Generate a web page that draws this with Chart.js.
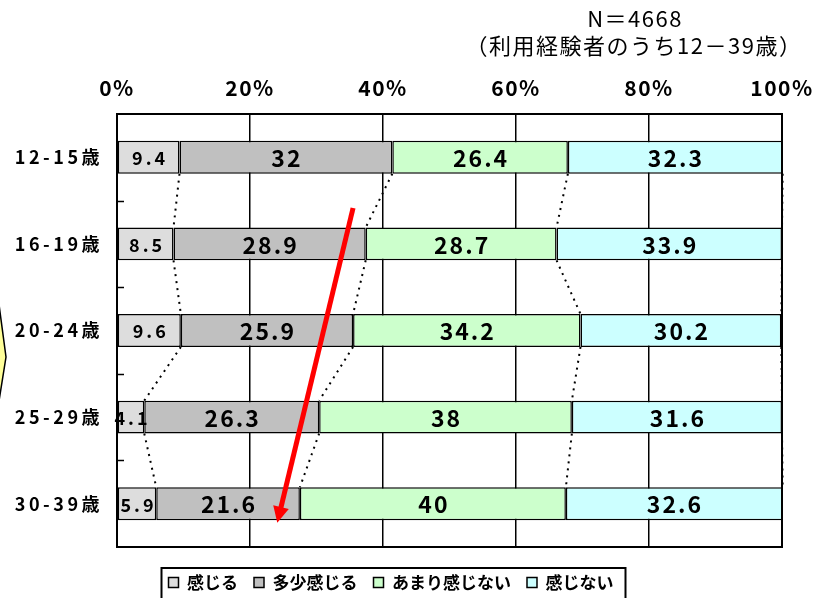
<!DOCTYPE html>
<html>
<head>
<meta charset="utf-8">
<script src="https://cdn.jsdelivr.net/npm/chart.js@4.4.1/dist/chart.umd.min.js"></script>
<style>
  html, body { margin: 0; padding: 0; background: #fff; }
  #wrap { position: relative; width: 814px; height: 598px; }
</style>
</head>
<body>
<div id="wrap"><canvas id="c" width="814" height="598"></canvas></div>
<script>
// ---- data ----
const categories = ['12-15歳', '16-19歳', '20-24歳', '25-29歳', '30-39歳'];
const seriesNames = ['感じる', '多少感じる', 'あまり感じない', '感じない'];
const kanjiru   = [9.4, 8.5, 9.6, 4.1, 5.9];
const tashou    = [32, 28.9, 25.9, 26.3, 21.6];
const amari     = [26.4, 28.7, 34.2, 38, 40];
const kanjinai  = [32.3, 33.9, 30.2, 31.6, 32.6];
const xTicks    = [0, 20, 40, 60, 80, 100];
const noteLines = ['N＝4668', '（利用経験者のうち12－39歳）'];
// red arrow annotation in data coordinates [x %, category index]
const arrowFrom = [35.5, 0.585];
const arrowTo   = [24.1, 4.22];

const seriesValues = [kanjiru, tashou, amari, kanjinai];
const seriesColors = ['#DDDDDD', '#C0C0C0', '#CCFFCC', '#CCFFFF'];
const FONT = '"Noto Sans CJK JP", "Noto Sans", sans-serif';

function wrapSpacing(scale, spacing) {
  if (scale._lsWrapped) return;
  const orig = scale.drawLabels;
  scale.drawLabels = function (ca) {
    const c = this.ctx;
    c.save();
    c.letterSpacing = spacing;
    orig.call(this, ca);
    c.restore();
  };
  scale._lsWrapped = true;
}

const decor = {
  id: 'decor',
  beforeDraw(chart) {
    wrapSpacing(chart.scales.x, '1.5px');
    wrapSpacing(chart.scales.y, '3.5px');
  },
  afterDatasetsDraw(chart) {
    const { ctx, chartArea: ca, scales: { x, y } } = chart;
    // series (connector) lines
    ctx.save();
    ctx.beginPath();
    ctx.rect(ca.left, ca.top, ca.right - ca.left + 2, ca.bottom - ca.top);
    ctx.clip();
    ctx.setLineDash([2, 5]);
    ctx.lineWidth = 2;
    ctx.strokeStyle = '#000';
    chart.data.datasets.forEach((ds, di) => {
      const meta = chart.getDatasetMeta(di);
      for (let i = 0; i < meta.data.length - 1; i++) {
        const a = meta.data[i], b = meta.data[i + 1];
        ctx.beginPath();
        ctx.moveTo(a.x, a.y + a.height / 2);
        ctx.lineTo(b.x, b.y - b.height / 2);
        ctx.stroke();
      }
    });
    ctx.restore();

    // plot frame
    ctx.save();
    ctx.strokeStyle = '#000';
    ctx.lineWidth = 2;
    ctx.strokeRect(ca.left, ca.top, ca.right - ca.left, ca.bottom - ca.top);
    // inward tick marks at category boundaries
    ctx.lineWidth = 1.5;
    for (let i = 0; i < categories.length - 1; i++) {
      const py = Math.round((y.getPixelForValue(i) + y.getPixelForValue(i + 1)) / 2) + 0.5;
      ctx.beginPath();
      ctx.moveTo(ca.left, py);
      ctx.lineTo(ca.left + 7, py);
      ctx.stroke();
    }
    ctx.restore();

    // data labels
    ctx.save();
    ctx.fillStyle = '#000';
    ctx.textBaseline = 'middle';
    ctx.textAlign = 'center';
    chart.data.datasets.forEach((ds, di) => {
      const meta = chart.getDatasetMeta(di);
      const small = di === 0;
      const sp = small ? 3 : 2;
      ctx.font = 'bold ' + (small ? 18 : 23) + 'px ' + FONT;
      ctx.letterSpacing = sp + 'px';
      meta.data.forEach((el, i) => {
        const x0 = Math.max(ca.left, Math.min(el.base, el.x));
        const x1 = Math.min(ca.right, Math.max(el.base, el.x));
        ctx.fillText(String(ds.data[i]), (x0 + x1) / 2 + sp / 2, el.y + 1);
      });
    });
    ctx.restore();

    // red arrow annotation
    const sx = x.getPixelForValue(arrowFrom[0]), sy = y.getPixelForValue(arrowFrom[1]);
    const ex = x.getPixelForValue(arrowTo[0]), ey = y.getPixelForValue(arrowTo[1]);
    const ang = Math.atan2(ey - sy, ex - sx);
    const headLen = 16, headHalf = 8;
    const bx = ex - headLen * Math.cos(ang), by = ey - headLen * Math.sin(ang);
    ctx.save();
    ctx.strokeStyle = '#FF0000';
    ctx.fillStyle = '#FF0000';
    ctx.lineWidth = 5;
    ctx.beginPath();
    ctx.moveTo(sx, sy);
    ctx.lineTo(bx + 2 * Math.cos(ang), by + 2 * Math.sin(ang));
    ctx.stroke();
    ctx.beginPath();
    ctx.moveTo(ex, ey);
    ctx.lineTo(bx + headHalf * Math.sin(ang), by - headHalf * Math.cos(ang));
    ctx.lineTo(bx - headHalf * Math.sin(ang), by + headHalf * Math.cos(ang));
    ctx.closePath();
    ctx.fill();
    ctx.restore();
  },
  afterDraw(chart) {
    const { ctx } = chart;
    // note text (top right)
    ctx.save();
    ctx.fillStyle = '#000';
    ctx.textAlign = 'center';
    ctx.textBaseline = 'middle';
    ctx.font = '22px ' + FONT;
    ctx.letterSpacing = '1.5px';
    ctx.fillText(noteLines[0], 635, 19);
    ctx.fillText(noteLines[1], 634, 46);
    ctx.restore();

    // partial yellow callout at the left edge
    ctx.save();
    ctx.fillStyle = '#FFFF99';
    ctx.strokeStyle = '#000';
    ctx.lineWidth = 1.5;
    ctx.beginPath();
    ctx.moveTo(-4, 282);
    ctx.lineTo(6, 357);
    ctx.lineTo(-4, 420);
    ctx.closePath();
    ctx.fill();
    ctx.stroke();
    ctx.restore();

    // legend frame
    const hb = chart.legend.legendHitBoxes;
    if (hb && hb.length) {
      const last = hb[hb.length - 1];
      const l = hb[0].left - 7, r = last.left + last.width + 12;
      const t = hb[0].top - 6;
      ctx.save();
      ctx.strokeStyle = '#000';
      ctx.lineWidth = 2;
      ctx.strokeRect(l, t, r - l, 60);
      ctx.restore();
    }
  }
};

const chart = new Chart(document.getElementById('c'), {
  type: 'bar',
  data: {
    labels: categories,
    datasets: seriesNames.map((name, i) => ({
      label: name,
      data: seriesValues[i],
      backgroundColor: seriesColors[i],
      borderColor: '#000',
      borderWidth: 1.5,
      borderSkipped: false,
      categoryPercentage: 1,
      barPercentage: 0.38
    }))
  },
  options: {
    indexAxis: 'y',
    responsive: false,
    animation: false,
    layout: { padding: { top: 70, left: 0, right: 32, bottom: -3 } },
    scales: {
      x: {
        type: 'linear',
        position: 'top',
        stacked: true,
        min: 0,
        max: 100,
        afterBuildTicks(s) { s.ticks = xTicks.map(v => ({ value: v })); },
        afterFit(s) { s.height = 44; s.paddingLeft = 0; s.paddingRight = 0; },
        ticks: {
          callback: v => v + '%',
          color: '#000',
          padding: 13,
          maxRotation: 0,
          font: { family: FONT, size: 21, weight: 'bold' }
        },
        grid: { color: '#000', lineWidth: 1.5, drawTicks: false },
        border: { display: true, color: '#000', width: 2 }
      },
      y: {
        type: 'category',
        stacked: true,
        afterFit(s) { s.width = 117; s.paddingTop = 0; s.paddingBottom = 0; },
        ticks: {
          color: '#000',
          padding: 14,
          font: { family: FONT, size: 18, weight: 'bold' }
        },
        grid: { display: false, drawTicks: false },
        border: { display: true, color: '#000', width: 2 }
      }
    },
    plugins: {
      legend: {
        position: 'bottom',
        title: { display: true, text: ' ', padding: 0, font: { size: 10, lineHeight: 1.1 } },
        labels: {
          color: '#000',
          boxWidth: 10,
          boxHeight: 10,
          padding: 16,
          font: { family: FONT, size: 17, weight: 'bold' }
        }
      },
      tooltip: { enabled: false }
    }
  },
  plugins: [decor]
});
</script>
</body>
</html>
